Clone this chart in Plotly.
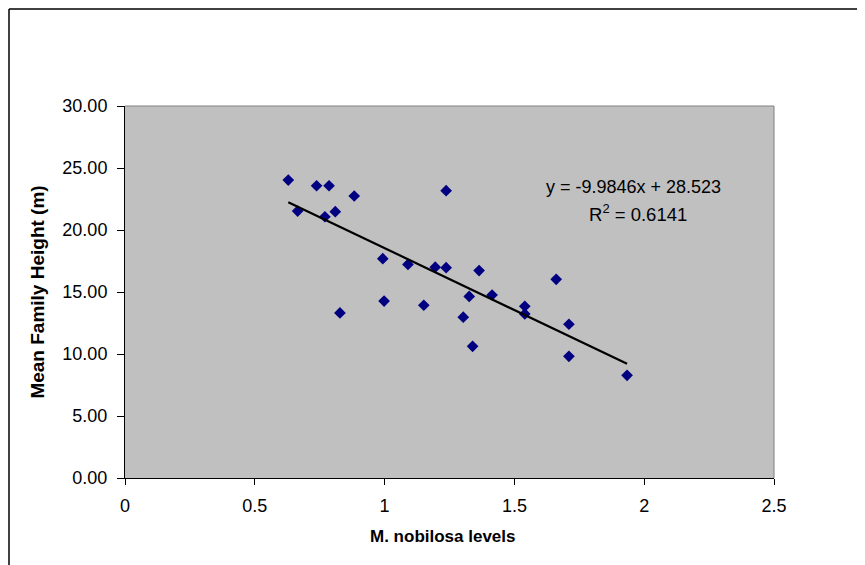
import plotly.graph_objects as go

levels = [0.629, 0.665, 0.738, 0.786, 0.883, 0.770, 0.810, 1.237, 0.828, 0.993,
          0.998, 1.090, 1.151, 1.195, 1.237, 1.364, 1.303, 1.326, 1.339, 1.414,
          1.540, 1.540, 1.661, 1.710, 1.710, 1.934]
heights = [24.03, 21.53, 23.57, 23.57, 22.74, 21.07, 21.48, 23.17, 13.31, 17.69,
           14.27, 17.22, 13.93, 17.00, 16.96, 16.73, 12.97, 14.64, 10.62, 14.76,
           13.85, 13.23, 16.02, 12.40, 9.81, 8.28]
slope = -9.9846
intercept = 28.523
r2 = 0.6141

xmin, xmax = min(levels), max(levels)
trend_x = [xmin, xmax]
trend_y = [slope * v + intercept for v in trend_x]

fig = go.Figure()
fig.add_trace(go.Scatter(x=levels, y=heights, mode="markers",
                         marker=dict(symbol="diamond", size=9, color="#000080"),
                         showlegend=False))
fig.add_trace(go.Scatter(x=trend_x, y=trend_y, mode="lines",
                         line=dict(color="black", width=2.2), showlegend=False))

font = "Liberation Sans, Arial, sans-serif"
# page body adds 8px offset; margins compensate
ML, MT, MR, MB = 117, 98, 99, 95
PW = 865 - ML - MR
PH = 565 - MT - MB
fx = lambda px: (px - ML) / PW
fy = lambda py: (565 - MB - py) / PH

fig.update_layout(
    width=865, height=565,
    margin=dict(l=ML, r=MR, t=MT, b=MB),
    paper_bgcolor="white", plot_bgcolor="#C0C0C0",
    font=dict(family=font, size=18, color="black"),
    xaxis=dict(range=[0, 2.5], tickvals=[0, 0.5, 1, 1.5, 2, 2.5],
               ticktext=["0", "0.5", "1", "1.5", "2", "2.5"],
               showgrid=False, zeroline=False, ticks="outside", ticklen=6,
               tickcolor="black", showline=True, linecolor="black", linewidth=1,
               tickfont=dict(size=18), ticklabelstandoff=5),
    yaxis=dict(range=[0, 30], tickvals=[0, 5, 10, 15, 20, 25, 30],
               tickformat=".2f",
               showgrid=False, zeroline=False, ticks="outside", ticklen=7,
               tickcolor="black", showline=True, linecolor="black", linewidth=1,
               tickfont=dict(size=18), ticklabelstandoff=6,
               title=dict(text="<b>Mean Family Height (m)</b>", font=dict(size=19), standoff=12)),
    shapes=[
        dict(type="line", xref="paper", yref="paper", x0=0, x1=1, y0=1, y1=1,
             line=dict(color="#808080", width=1)),
        dict(type="line", xref="paper", yref="paper", x0=1, x1=1, y0=0, y1=1,
             line=dict(color="#808080", width=1)),
        dict(type="line", xref="paper", yref="paper", x0=fx(1), x1=fx(870), y0=fy(1), y1=fy(1),
             line=dict(color="black", width=1.5)),
        dict(type="line", xref="paper", yref="paper", x0=fx(1), x1=fx(1), y0=fy(570), y1=fy(1),
             line=dict(color="black", width=1.5)),
    ],
    annotations=[
        dict(x=1.957, y=23.47, xref="x", yref="y", showarrow=False,
             text=f"y = {slope}x + {intercept}", font=dict(size=18)),
        dict(x=1.976, y=21.37, xref="x", yref="y", showarrow=False,
             text=f"R<sup>2</sup> = {r2}", font=dict(size=18.5)),
        dict(x=fx(434.5), y=fy(528), xref="paper", yref="paper", showarrow=False,
             xanchor="center", yanchor="middle",
             text="<b>M. nobilosa levels</b>", font=dict(size=17)),
    ],
)
fig.write_html("out.html")
